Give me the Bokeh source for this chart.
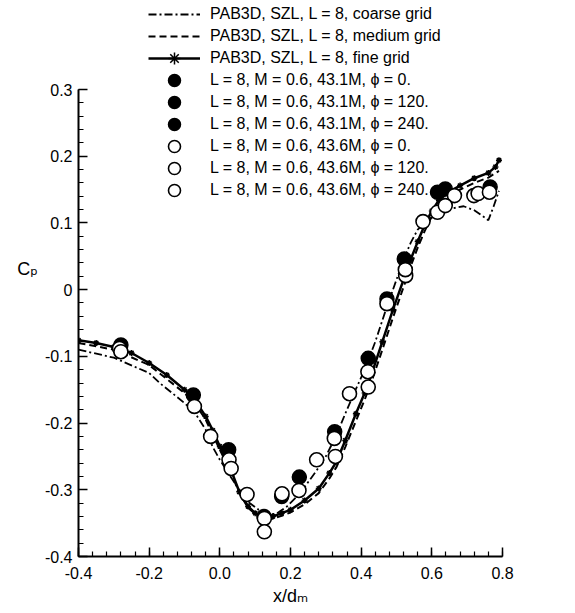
from bokeh.plotting import figure
from bokeh.models import Range1d, FixedTicker, Legend, LegendItem
from bokeh.embed import file_html
from bokeh.resources import INLINE

# ---------------- data ----------------
coarse_x = [-0.40, -0.30, -0.20, -0.17, -0.10, -0.07, -0.04, -0.02, 0.00, 0.03, 0.055, 0.08, 0.11, 0.14,
            0.16, 0.19, 0.226, 0.274, 0.30, 0.33, 0.355, 0.38, 0.41, 0.44, 0.47, 0.50, 0.52, 0.54, 0.56,
            0.58, 0.60, 0.63, 0.66, 0.69, 0.72, 0.75, 0.76, 0.775, 0.79]
coarse_y = [-0.090, -0.102, -0.125, -0.140, -0.170, -0.185, -0.210, -0.236, -0.255, -0.280, -0.300, -0.318,
            -0.330, -0.336, -0.336, -0.325, -0.306, -0.271, -0.250, -0.218, -0.186, -0.155, -0.120, -0.078,
            -0.030, 0.015, 0.045, 0.070, 0.090, 0.100, 0.108, 0.115, 0.122, 0.125, 0.119, 0.108, 0.104,
            0.125, 0.148]

medium_x = [-0.40, -0.30, -0.20, -0.10, -0.07, -0.04, 0.00, 0.03, 0.055, 0.08, 0.125, 0.175, 0.20, 0.24,
            0.28, 0.31, 0.33, 0.355, 0.385, 0.41, 0.43, 0.46, 0.49, 0.52, 0.54, 0.56, 0.58, 0.60, 0.62,
            0.65, 0.68, 0.72, 0.76, 0.79]
medium_y = [-0.080, -0.090, -0.113, -0.155, -0.171, -0.195, -0.240, -0.272, -0.305, -0.327, -0.347,
            -0.339, -0.334, -0.322, -0.305, -0.283, -0.266, -0.236, -0.197, -0.165, -0.137, -0.090,
            -0.042, 0.004, 0.035, 0.063, 0.088, 0.110, 0.127, 0.141, 0.150, 0.160, 0.168, 0.178]

fine_x = [-0.40, -0.35, -0.30, -0.25, -0.20, -0.15, -0.10, -0.07, -0.04, -0.02, 0.00, 0.03, 0.055, 0.08,
          0.10, 0.125, 0.15, 0.175, 0.20, 0.24, 0.28, 0.31, 0.33, 0.355, 0.385, 0.41, 0.43, 0.46, 0.49,
          0.52, 0.54, 0.56, 0.58, 0.60, 0.62, 0.65, 0.68, 0.72, 0.76, 0.78, 0.79]
fine_y = [-0.076, -0.080, -0.086, -0.095, -0.110, -0.128, -0.150, -0.166, -0.190, -0.211, -0.235, -0.268,
          -0.303, -0.325, -0.335, -0.343, -0.340, -0.335, -0.330, -0.316, -0.298, -0.275, -0.258, -0.226,
          -0.186, -0.155, -0.126, -0.078, -0.030, 0.015, 0.045, 0.072, 0.097, 0.118, 0.134, 0.147, 0.156,
          0.167, 0.175, 0.184, 0.194]

f0_x = [-0.28, 0.025, 0.225, 0.42, 0.616]
f0_y = [-0.083, -0.240, -0.281, -0.103, 0.146]
f120_x = [-0.075, 0.175, 0.325, 0.522, 0.638]
f120_y = [-0.158, -0.310, -0.213, 0.046, 0.151]
f240_x = [0.125, 0.473, 0.765]
f240_y = [-0.340, -0.014, 0.154]

o0_x = [-0.284, -0.072, 0.026, 0.077, 0.126, 0.224, 0.324, 0.419, 0.526, 0.575, 0.664]
o0_y = [-0.088, -0.175, -0.255, -0.307, -0.343, -0.301, -0.223, -0.123, 0.021, 0.102, 0.141]
o120_x = [-0.280, -0.026, 0.032, 0.126, 0.176, 0.274, 0.420, 0.473, 0.616, 0.719]
o120_y = [-0.093, -0.220, -0.268, -0.363, -0.306, -0.255, -0.146, -0.021, 0.116, 0.141]
o240_x = [0.327, 0.367, 0.525, 0.638, 0.731, 0.763]
o240_y = [-0.250, -0.156, 0.030, 0.126, 0.144, 0.146]

x_ticks = [-0.4, -0.2, 0.0, 0.2, 0.4, 0.6, 0.8]
x_tick_labels = ["-0.4", "-0.2", "0.0", "0.2", "0.4", "0.6", "0.8"]
y_ticks = [-0.4, -0.3, -0.2, -0.1, 0.0, 0.1, 0.2, 0.3]
y_tick_labels = ["-0.4", "-0.3", "-0.2", "-0.1", "0", "0.1", "0.2", "0.3"]

labels = ["PAB3D, SZL, L = 8, coarse grid",
          "PAB3D, SZL, L = 8, medium grid",
          "PAB3D, SZL, L = 8, fine grid",
          "L = 8, M = 0.6, 43.1M, \u03d5 = 0.",
          "L = 8, M = 0.6, 43.1M, \u03d5 = 120.",
          "L = 8, M = 0.6, 43.1M, \u03d5 = 240.",
          "L = 8, M = 0.6, 43.6M, \u03d5 = 0.",
          "L = 8, M = 0.6, 43.6M, \u03d5 = 120.",
          "L = 8, M = 0.6, 43.6M, \u03d5 = 240."]
x_title = "x/d\u2098"
y_title = "C\u209a"

# ---------------- layout ----------------
FONT = "Liberation Sans, DejaVu Sans"
W, H = 575, 613
left, right, bottom = 78, 73, 57
axis_top = 89          # pixel row of y = 0.3
frame_top = 4          # frame extends above the axis so the legend fits
y0, y1 = -0.4, 0.3
ppu = (H - bottom - axis_top) / (y1 - y0)
y_end = y1 + (axis_top - frame_top) / ppu

p = figure(width=W, height=H, output_backend="svg", toolbar_location=None,
           x_range=Range1d(-0.4, 0.8), y_range=Range1d(y0, y_end),
           min_border_left=left, min_border_right=right, min_border_top=frame_top,
           min_border_bottom=bottom)
p.outline_line_color = None
p.xgrid.visible = False
p.ygrid.visible = False
p.background_fill_color = "white"
p.border_fill_color = "white"

xminor = [round(-0.4 + 0.04 * i, 2) for i in range(31)]
yminor = [round(-0.4 + 0.02 * i, 2) for i in range(36)]
p.xaxis.ticker = FixedTicker(ticks=x_ticks, minor_ticks=xminor)
p.yaxis.ticker = FixedTicker(ticks=y_ticks, minor_ticks=yminor)
p.xaxis.major_label_overrides = dict(zip(x_ticks, x_tick_labels))
p.yaxis.major_label_overrides = dict(zip(y_ticks, y_tick_labels))
p.yaxis.bounds = (y0, y1)
for ax in (p.xaxis, p.yaxis):
    ax.axis_line_width = 2
    ax.axis_line_color = "black"
    ax.major_tick_in = 9
    ax.major_tick_out = 0
    ax.minor_tick_in = 5
    ax.minor_tick_out = 0
    ax.major_tick_line_width = 1.5
    ax.minor_tick_line_width = 1.2
    ax.major_tick_line_color = "black"
    ax.minor_tick_line_color = "black"
    ax.major_label_text_font = FONT
    ax.major_label_text_font_size = "16px"
    ax.major_label_text_color = "black"
    ax.axis_label_text_font = FONT
    ax.axis_label_text_font_style = "normal"
    ax.axis_label_text_font_size = "18px"
    ax.axis_label_text_color = "black"
p.xaxis.major_label_standoff = 10
p.yaxis.major_label_standoff = 6
p.xaxis.axis_label = x_title
p.xaxis.axis_label_standoff = 4
p.yaxis.axis_label = y_title + "\n\u00a0"
p.yaxis.axis_label_orientation = "horizontal"
p.yaxis.axis_label_standoff = 4

r_coarse = p.line(coarse_x, coarse_y, line_color="black", line_width=1.8, line_dash="8 3 2 3")
r_medium = p.line(medium_x, medium_y, line_color="black", line_width=2, line_dash="7 4")
r_fine = p.line(fine_x, fine_y, line_color="black", line_width=2.5)
r_fine_m = p.scatter(fine_x, fine_y, marker="asterisk", size=6, line_color="black", line_width=1.5)

def filled(x, y):
    return p.scatter(x, y, marker="circle", size=14, fill_color="black", line_color="black", line_width=1.5)

def hollow(x, y):
    return p.scatter(x, y, marker="circle", size=14, fill_color="white", line_color="black", line_width=1.6)

r_f0 = filled(f0_x, f0_y)
r_f120 = filled(f120_x, f120_y)
r_f240 = filled(f240_x, f240_y)
r_o0 = hollow(o0_x, o0_y)
r_o120 = hollow(o120_x, o120_y)
r_o240 = hollow(o240_x, o240_y)

rends = [[r_coarse], [r_medium], [r_fine, r_fine_m], [r_f0], [r_f120], [r_f240], [r_o0], [r_o120], [r_o240]]
items = [LegendItem(label=l, renderers=r) for l, r in zip(labels, rends)]

# legend: items interleaved over two legend boxes so the row pitch (22 px) stays tight
# while the markers keep a full-size glyph box (30 px)
box, pitch, first_row = 30, 22, 14
frame_bottom = H - bottom

def make_legend(its, first_center):
    n = len(its)
    height = n * box + (n - 1) * (2 * pitch - box)
    top = first_center - box / 2
    return Legend(items=its, location=(70, frame_bottom - (top + height)),
                  border_line_color=None, background_fill_alpha=0,
                  glyph_width=52, glyph_height=box, label_height=box, spacing=2 * pitch - box,
                  padding=0, margin=0, label_standoff=10, label_text_font=FONT,
                  label_text_font_size="16px", label_text_color="black")

p.add_layout(make_legend(items[0::2], first_row))
p.add_layout(make_legend(items[1::2], first_row + pitch))

open("out.html", "w").write(file_html(p, INLINE))
